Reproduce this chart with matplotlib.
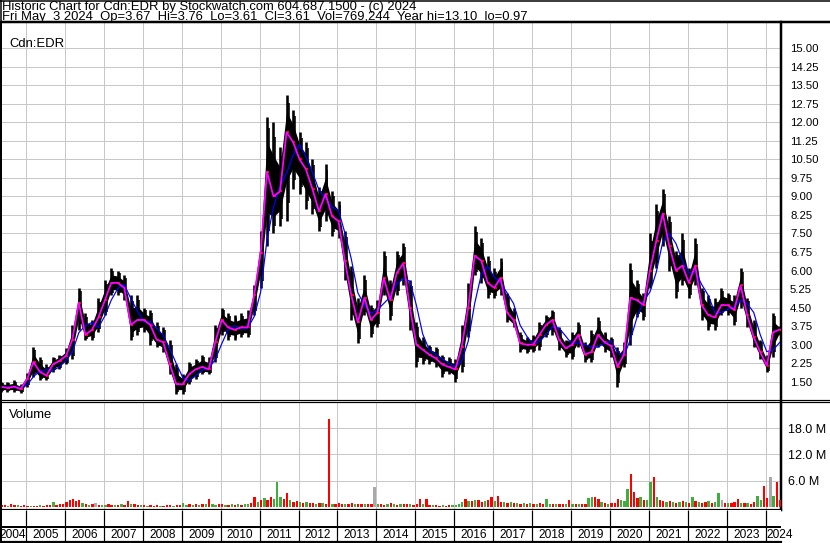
import numpy as np
import pandas as pd
import matplotlib
matplotlib.use('Agg')
import matplotlib.pyplot as plt
from matplotlib.lines import Line2D

plt.rcParams['font.family'] = ['Liberation Sans', 'DejaVu Sans']

W, H, DPI = 830, 543, 100

# ---------------- data ----------------
# price samples, one every two months (May 2004 .. May 2024)
price_high = [1.50, 1.50, 1.55, 1.40, 1.85, 2.90, 2.50, 2.20, 2.50, 2.60,
              2.85, 3.80, 5.30, 4.30, 4.00, 4.90, 5.60, 6.10, 6.00, 5.80,
              5.00, 5.00, 4.50, 4.40, 3.90, 3.70, 3.20, 2.20, 1.80, 2.30,
              2.40, 2.60, 2.50, 3.80, 4.50, 4.30, 4.20, 4.30, 4.40, 5.40,
              7.60, 12.20, 12.00, 11.00, 13.10, 12.50, 11.60, 11.20, 10.50, 9.40,
              10.30, 9.20, 8.80, 7.60, 6.20, 4.90, 5.80, 4.60, 4.80, 6.80,
              5.60, 6.80, 7.10, 5.60, 3.90, 3.30, 3.00, 2.90, 2.60, 2.50,
              2.40, 3.80, 5.50, 7.80, 7.30, 6.60, 6.10, 6.50, 5.10, 4.50,
              3.50, 3.30, 3.40, 3.90, 4.20, 4.40, 3.70, 3.20, 3.50, 3.90,
              3.10, 3.60, 4.10, 3.50, 3.30, 2.90, 3.10, 6.30, 5.60, 5.10,
              7.50, 8.70, 9.30, 8.20, 6.80, 7.50, 6.10, 7.30, 5.30, 5.00,
              4.90, 5.30, 5.10, 5.00, 6.10, 4.90, 4.00, 3.20, 2.60, 4.30,
              3.76]
price_low = [1.10, 1.10, 1.10, 1.04, 1.30, 1.70, 1.55, 1.55, 1.90, 2.00,
             2.20, 2.40, 3.60, 3.20, 3.20, 3.50, 4.20, 5.00, 5.00, 4.80,
             3.20, 3.40, 3.50, 3.00, 2.90, 2.70, 1.80, 1.00, 1.00, 1.40,
             1.60, 1.80, 1.80, 2.30, 3.40, 3.20, 3.20, 3.30, 3.30, 4.20,
             5.30, 7.00, 7.50, 7.80, 8.00, 9.30, 9.10, 8.50, 8.30, 7.60,
             8.00, 7.40, 7.30, 5.60, 4.00, 3.05, 4.20, 3.30, 3.70, 5.00,
             4.00, 5.00, 5.40, 3.60, 2.10, 2.20, 2.20, 2.10, 1.70, 1.80,
             1.50, 1.90, 3.30, 5.80, 5.50, 4.90, 4.90, 5.00, 3.90, 3.70,
             2.70, 2.65, 2.70, 2.80, 3.30, 3.40, 2.80, 2.50, 2.40, 2.90,
             2.30, 2.30, 2.90, 2.70, 2.50, 1.30, 2.10, 3.00, 4.10, 4.00,
             5.30, 6.10, 7.00, 6.00, 4.90, 5.40, 4.90, 5.40, 4.00, 3.60,
             3.60, 4.20, 4.20, 3.80, 4.50, 3.70, 2.90, 2.40, 1.90, 2.50,
             3.40]
price_close = [1.30, 1.25, 1.30, 1.20, 1.60, 2.30, 1.90, 1.75, 2.20, 2.35,
               2.55, 3.20, 4.70, 3.40, 3.60, 4.10, 4.80, 5.50, 5.50, 5.30,
               3.80, 4.00, 4.00, 3.80, 3.20, 3.10, 2.20, 1.40, 1.40, 1.80,
               2.00, 2.10, 2.00, 3.10, 4.00, 3.70, 3.60, 3.70, 3.70, 5.00,
               6.70, 10.00, 9.00, 9.20, 11.60, 11.20, 10.50, 10.10, 9.30, 8.40,
               9.10, 8.20, 8.00, 6.40, 5.00, 3.90, 4.90, 4.00, 4.30, 5.70,
               4.80, 5.90, 6.30, 4.50, 3.00, 2.80, 2.60, 2.45, 2.20, 2.10,
               2.00, 2.90, 4.50, 6.60, 6.40, 5.50, 5.30, 5.70, 4.30, 4.00,
               3.05, 3.00, 3.00, 3.40, 3.80, 4.00, 3.20, 2.85, 3.00, 3.40,
               2.60, 2.70, 3.40, 3.10, 2.95, 2.10, 2.60, 4.90, 4.80, 4.60,
               6.00, 7.20, 8.30, 7.00, 6.00, 6.20, 5.50, 6.20, 4.60, 4.20,
               4.10, 4.60, 4.60, 4.40, 5.40, 4.20, 3.30, 2.70, 2.15, 3.50,
               3.61]

# monthly volume (millions) and bar colour flags (r = down, g = up, n = unchanged)
vol_2004 = [0.4, 0.5, 0.3, 0.6, 0.4, 0.5, 0.3, 0.4]
col_2004 = 'rrgrrgrr'
vol_2005 = [0.3, 0.2, 0.3, 0.2, 0.4, 0.3, 0.5, 0.4, 1.2, 0.5, 0.6, 0.8]
col_2005 = 'rgrrgrrrgrrr'
vol_2006 = [1.2, 1.5, 1.8, 1.4, 1.6, 1.0, 0.7, 0.5, 0.6, 0.9, 0.4, 0.5]
col_2006 = 'rrrrrgrgrnrg'
vol_2007 = [0.5, 0.6, 0.4, 0.5, 0.5, 0.6, 0.4, 1.4, 0.7, 0.6, 0.4, 0.5]
col_2007 = 'grrgrgrrgrrg'
vol_2008 = [0.4, 0.3, 0.5, 0.3, 0.4, 0.3, 0.3, 0.4, 0.4, 0.3, 0.4, 0.5]
col_2008 = 'rgrrrgrrrgrr'
vol_2009 = [0.9, 0.5, 0.6, 0.4, 0.6, 0.5, 0.7, 0.8, 1.8, 0.6, 0.5, 0.7]
col_2009 = 'ggrgrgrgrggr'
vol_2010 = [0.6, 0.5, 0.4, 0.6, 0.5, 0.7, 0.5, 0.6, 0.8, 1.0, 2.3, 1.2]
col_2010 = 'rgrgrgrggrrg'
vol_2011 = [1.5, 2.0, 1.6, 2.4, 1.8, 5.6, 2.2, 1.9, 3.1, 1.5, 1.2, 1.4]
col_2011 = 'rgrrgggrrgrr'
vol_2012 = [1.2, 1.0, 1.1, 0.9, 1.0, 0.8, 0.9, 1.0, 0.8, 20.0, 0.7, 0.8]
col_2012 = 'grgrrgrgrrgr'
vol_2013 = [0.9, 0.8, 0.7, 0.6, 1.0, 0.7, 0.8, 0.6, 0.6, 0.7, 0.6, 4.6]
col_2013 = 'rrgrrgrrgrrn'
vol_2014 = [0.6, 0.7, 0.5, 0.6, 0.9, 0.6, 0.5, 0.6, 0.7, 0.8, 0.6, 0.5]
col_2014 = 'grrgrgrgrrgr'
vol_2015 = [0.6, 1.8, 0.7, 1.9, 0.5, 0.4, 0.4, 0.3, 0.4, 0.3, 0.5, 0.4]
col_2015 = 'rrgrrgrrgrrg'
vol_2016 = [0.5, 0.8, 1.2, 1.9, 1.4, 1.3, 1.5, 1.6, 1.2, 1.3, 1.5, 2.3]
col_2016 = 'gggrgrgrrgrr'
vol_2017 = [1.3, 2.6, 1.2, 1.1, 1.0, 1.2, 0.9, 1.0, 0.8, 0.9, 0.8, 1.0]
col_2017 = 'grrgrgrgrgrg'
vol_2018 = [0.8, 0.7, 0.9, 0.8, 1.9, 0.8, 0.7, 0.6, 0.7, 0.6, 0.8, 1.7]
col_2018 = 'rgrrggrgrrgr'
vol_2019 = [0.8, 0.7, 0.6, 0.7, 0.8, 2.0, 2.4, 2.2, 1.8, 1.2, 1.0, 0.8]
col_2019 = 'grgrrggrrgrg'
vol_2020 = [0.9, 1.0, 1.8, 1.5, 1.4, 4.0, 7.5, 3.4, 2.0, 2.3, 1.5, 1.6]
col_2020 = 'rrrgggrrrgrg'
vol_2021 = [5.8, 6.8, 2.4, 1.6, 1.4, 1.2, 1.3, 1.1, 1.0, 1.2, 1.4, 1.1]
col_2021 = 'grgrrgrgrgrg'
vol_2022 = [1.0, 2.2, 1.4, 1.2, 1.0, 1.1, 1.3, 1.0, 1.2, 3.3, 1.6, 1.0]
col_2022 = 'rgrgrrgrggnr'
vol_2023 = [1.0, 0.9, 1.1, 1.8, 1.0, 1.0, 0.9, 0.8, 1.2, 2.6, 1.5, 4.9]
col_2023 = 'grrrgrgrrggr'
vol_2024 = [2.0, 6.8, 2.5, 5.7, 1.5]
col_2024 = 'rngrr'

year_labels = [str(y) for y in range(2004, 2025)]
price_tick_values = [1.50, 2.25, 3.00, 3.75, 4.50, 5.25, 6.00, 6.75, 7.50, 8.25,
                     9.00, 9.75, 10.50, 11.25, 12.00, 12.75, 13.50, 14.25, 15.00]
vol_tick_values = [6.0, 12.0, 18.0]

header1 = "Historic Chart for Cdn:EDR by Stockwatch.com 604.687.1500 - (c) 2024"
header2 = ("Fri May  3 2024  Op=3.67  Hi=3.76  Lo=3.61  Cl=3.61  "
           "Vol=769,244  Year hi=13.10  lo=0.97")

# ---------------- helpers ----------------
def frac_year(idx):
    idx = pd.DatetimeIndex(idx)
    start = pd.to_datetime([f"{y}-01-01" for y in idx.year])
    end = pd.to_datetime([f"{y + 1}-01-01" for y in idx.year])
    return np.asarray(idx.year + (idx - start) / (end - start), dtype=float)

def px_rect(x0, y0, x1, y1):
    return [x0 / W, 1 - y1 / H, (x1 - x0) / W, (y1 - y0) / H]

price_dates = pd.date_range('2004-05-01', periods=len(price_close), freq='2MS') + pd.Timedelta(days=10)
t_price = frac_year(price_dates)
hi = np.array(price_high)
lo = np.array(price_low)
cl = np.array(price_close)

volume = (vol_2004 + vol_2005 + vol_2006 + vol_2007 + vol_2008 + vol_2009 + vol_2010 +
          vol_2011 + vol_2012 + vol_2013 + vol_2014 + vol_2015 + vol_2016 + vol_2017 +
          vol_2018 + vol_2019 + vol_2020 + vol_2021 + vol_2022 + vol_2023 + vol_2024)
vol_flags = (col_2004 + col_2005 + col_2006 + col_2007 + col_2008 + col_2009 + col_2010 +
             col_2011 + col_2012 + col_2013 + col_2014 + col_2015 + col_2016 + col_2017 +
             col_2018 + col_2019 + col_2020 + col_2021 + col_2022 + col_2023 + col_2024)
vol_dates = pd.date_range('2004-05-01', periods=len(volume), freq='MS') + pd.Timedelta(days=14)
t_vol = frac_year(vol_dates)
cmap = {'r': '#ff0000', 'g': '#3fae3f', 'n': '#a9a9a9'}
vol_colors = [cmap[c] for c in vol_flags]

ma_slow = pd.Series(price_close).rolling(3, min_periods=1).mean().values

# x scale: 2005 at px 26, 2024 at px 765.7
PXY = (765.7 - 26) / 19.0
T0 = 2005 - (26 - 1) / PXY
T1 = 2005 + (781 - 26) / PXY
years = np.arange(2005, 2025)

GRID = '#c8c8c8'
PX = 72 / DPI  # points per pixel
FS = 9.4

fig = plt.figure(figsize=(W / DPI, H / DPI), dpi=DPI)
fig.patch.set_facecolor('white')

# ---------------- price panel ----------------
ax = fig.add_axes(px_rect(1, 22, 781, 400))
ax.set_xlim(T0, T1)
ax.set_ylim(0.76, 16.06)
ax.set_xticks(years)
ax.set_yticks(price_tick_values)
ax.set_yticklabels([f"{v:.2f}" for v in price_tick_values])
ax.yaxis.tick_right()
ax.tick_params(axis='y', length=0, pad=6.5, labelsize=8.2, colors='black')
ax.tick_params(axis='x', length=0, labelbottom=False)
ax.grid(True, color=GRID, lw=1.0 * PX)
ax.set_axisbelow(True)

# core of the daily range (dense part) plus the full high-low bars
core = 0.55
ax.fill_between(t_price, cl - core * (cl - lo), cl + core * (hi - cl), color='black', lw=0, zorder=2)
ax.vlines(t_price, lo, hi, colors='black', linewidth=2.6 * PX, zorder=3)
ax.vlines(t_price + 0.05, cl - 0.8 * (cl - lo), cl + 0.8 * (hi - cl), colors='black',
          linewidth=1.6 * PX, zorder=3)
ax.hlines(cl, t_price, t_price + 0.06, colors='#ff0000', linewidth=2 * PX, zorder=4)
ax.plot(t_price, ma_slow, color='#0000ff', lw=1.2 * PX, zorder=5)
ax.plot(t_price, cl, color='#ff00ff', lw=1.8 * PX, zorder=6)

for s in ['left', 'top']:
    ax.spines[s].set_linewidth(2 * PX)
ax.spines['right'].set_linewidth(2.5 * PX)
ax.spines['bottom'].set_linewidth(1.2 * PX)
ax.text(8 / 780, 1 - 25 / 378, 'Cdn:EDR', transform=ax.transAxes, fontsize=FS,
        va='baseline', ha='left')

# ---------------- volume panel ----------------
axv = fig.add_axes(px_rect(1, 402, 781, 510))
axv.set_xlim(T0, T1)
axv.set_ylim(-0.68, 23.97)
axv.set_xticks(years)
axv.set_yticks(vol_tick_values)
axv.set_yticklabels(['6.0 M', '12.0 M', '18.0 M'])
axv.yaxis.tick_right()
axv.tick_params(axis='y', length=0, pad=5, labelsize=9.0)
axv.tick_params(axis='x', length=0, labelbottom=False)
axv.grid(True, color=GRID, lw=1.0 * PX)
axv.set_axisbelow(True)
axv.bar(t_vol, volume, width=0.06, bottom=0, color=vol_colors, zorder=3, linewidth=0)
axv.spines['top'].set_linewidth(1.2 * PX)
axv.spines['left'].set_linewidth(2 * PX)
axv.spines['right'].set_linewidth(2.5 * PX)
axv.spines['bottom'].set_linewidth(2.2 * PX)
axv.text(8 / 780, 1 - 16 / 108, 'Volume', transform=axv.transAxes, fontsize=FS,
         va='baseline', ha='left')

# ---------------- year strip ----------------
axs = fig.add_axes(px_rect(1, 510, 781, 542))
axs.set_xlim(T0, T1)
axs.set_ylim(0, 1)
axs.set_xticks([])
axs.set_yticks([])
axs.spines['top'].set_visible(False)
axs.spines['right'].set_visible(False)
axs.spines['left'].set_linewidth(2 * PX)
axs.spines['bottom'].set_linewidth(2.2 * PX)
mid_line = 15 / 32
axs.axhline(mid_line, color='black', lw=2 * PX)
axs.vlines(years, 0, 1, colors='black', lw=1.2 * PX)
label_x = [(T0 + 2005) / 2 - 0.03] + [y + 0.5 for y in range(2005, 2024)] + [2024 + 0.36]
for lab, xx in zip(year_labels, label_x):
    axs.text(xx, mid_line / 2, lab, ha='center', va='center', fontsize=8.6, clip_on=False)

# ---------------- header & frame ----------------
fig.text(2 / W, 1 - 9.8 / H, header1, fontsize=FS, va='baseline', ha='left')
fig.text(2 / W, 1 - 19.6 / H, header2, fontsize=FS, va='baseline', ha='left')

def fig_hline(y, x0, x1, lw):
    fig.add_artist(Line2D([x0 / W, x1 / W], [1 - y / H, 1 - y / H], color='black', lw=lw * PX,
                          transform=fig.transFigure))

fig_hline(0.5, 0, W, 1.5)
fig_hline(22, 0, W, 2.5)
fig_hline(400, 781, W, 1.2)
fig_hline(402, 781, W, 1.2)
fig.add_artist(Line2D([0.5 / W, 0.5 / W], [0, 1], color='black', lw=1.5 * PX, transform=fig.transFigure))

fig.savefig('out.png', dpi=DPI)
